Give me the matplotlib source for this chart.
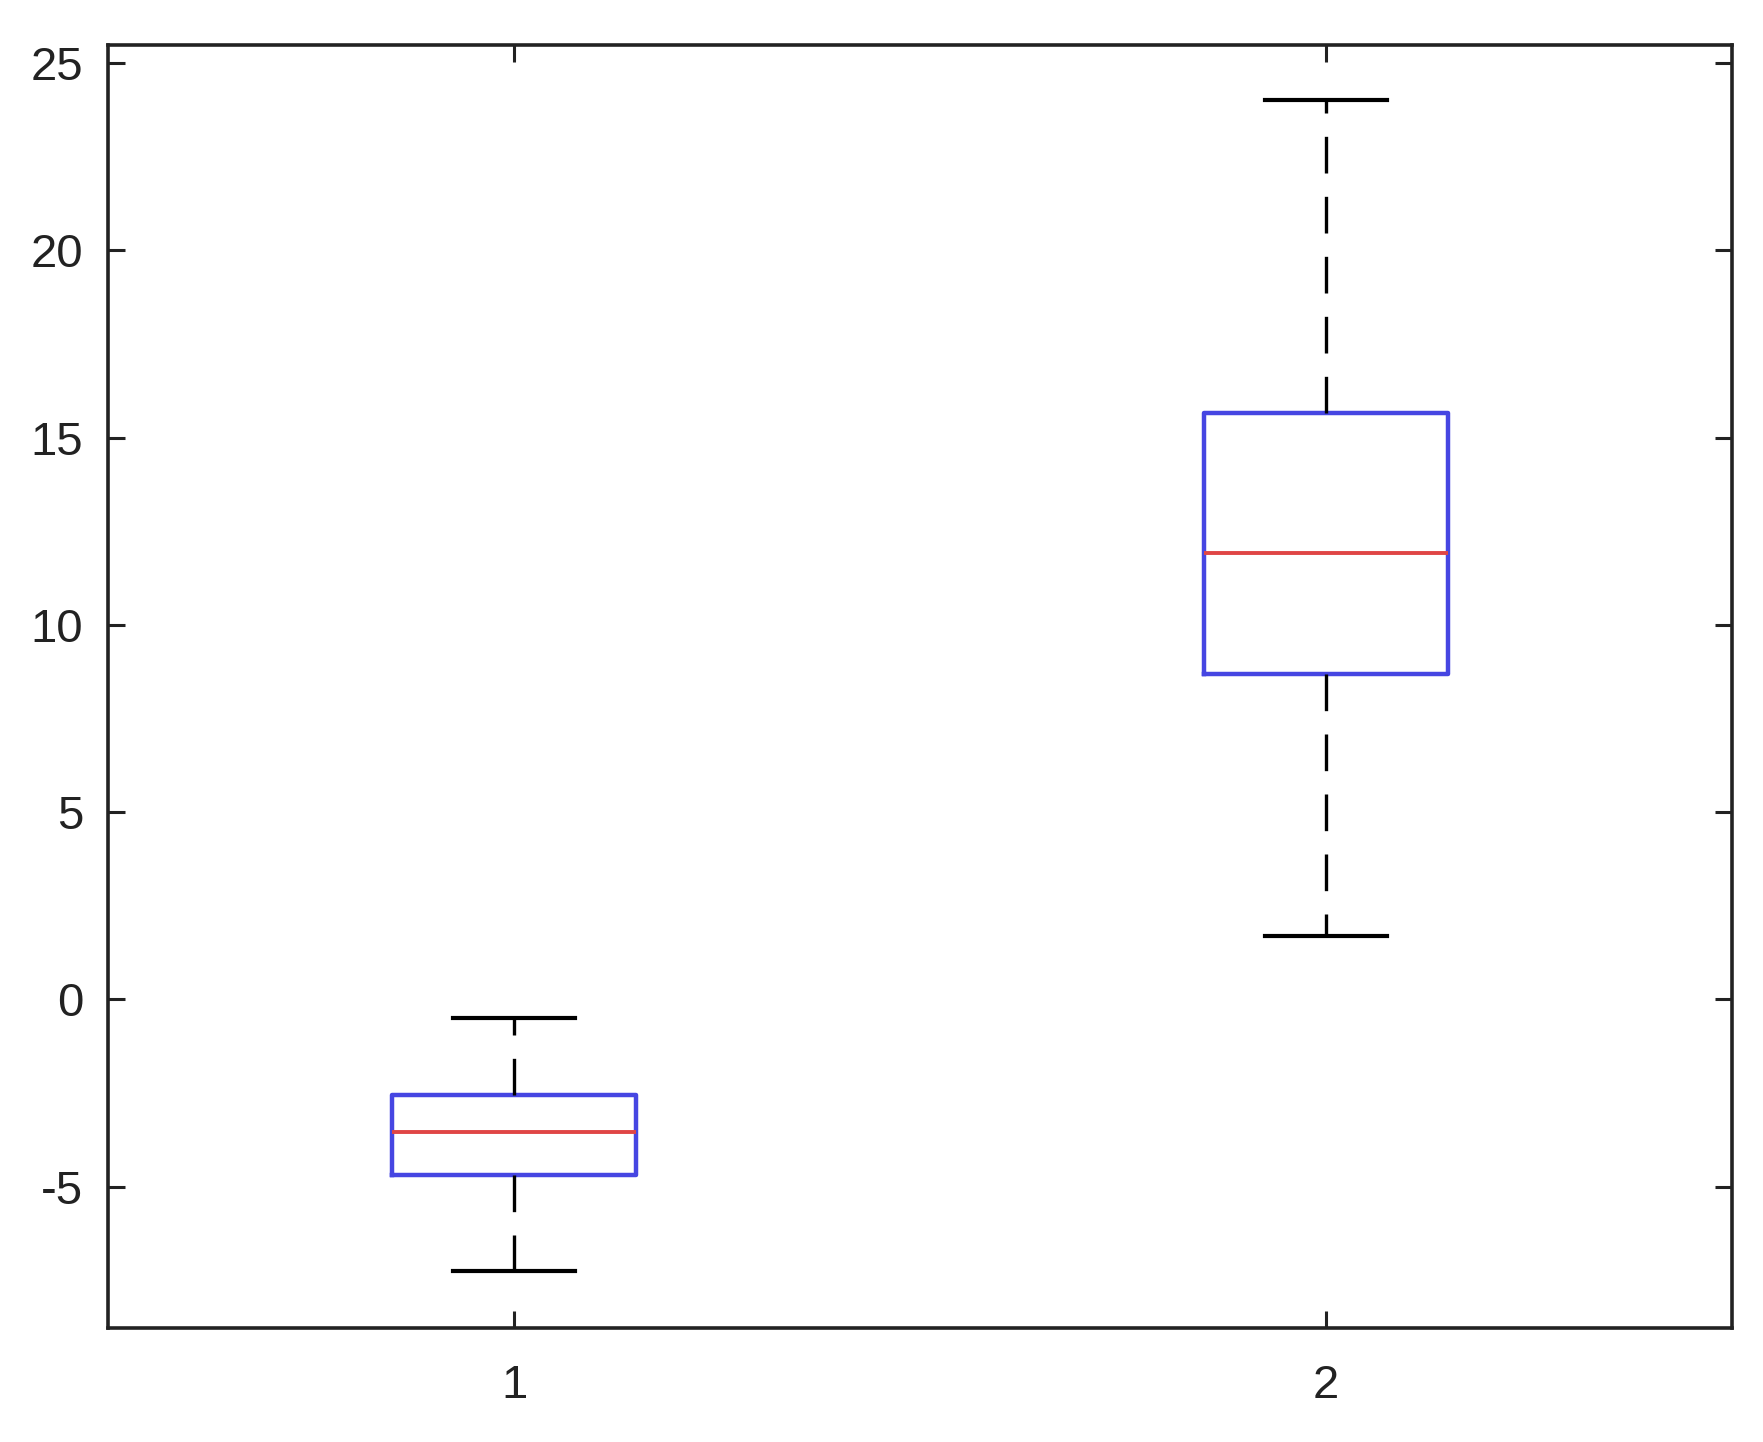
import matplotlib.pyplot as plt

# values
labels = ["1", "2"]
q1 = [-4.69, 8.69]
median = [-3.55, 11.92]
q3 = [-2.55, 15.66]
whisker_low = [-7.24, 1.70]
whisker_high = [-0.49, 24.0]
y_ticks = [-5, 0, 5, 10, 15, 20, 25]

plt.rcParams["font.family"] = ["Liberation Sans", "DejaVu Sans"]
plt.rcParams["axes.unicode_minus"] = False

fig = plt.figure(figsize=(17.63, 14.42), dpi=100)
ax = fig.add_axes([0.0613, 0.0791, 0.9211, 0.8897])

stats = []
for i, lab in enumerate(labels):
    stats.append({
        "label": lab,
        "q1": q1[i],
        "med": median[i],
        "q3": q3[i],
        "whislo": whisker_low[i],
        "whishi": whisker_high[i],
        "fliers": [],
    })

ax.bxp(
    stats,
    positions=[1, 2],
    widths=0.30,
    showfliers=False,
    boxprops=dict(color="#4646e2", linewidth=3.2),
    medianprops=dict(color="#e04545", linewidth=2.8),
    whiskerprops=dict(color="black", linewidth=2.4, linestyle=(0, (11, 7))),
    capprops=dict(color="black", linewidth=3.0),
    capwidths=0.15,
)

ax.set_xlim(0.5, 2.5)
ax.set_ylim(-8.77, 25.48)
ax.set_xticks([1, 2])
ax.set_xticklabels(labels)
ax.set_yticks(y_ticks)

for side in ["left", "right", "top", "bottom"]:
    ax.spines[side].set_linewidth(2.6)
    ax.spines[side].set_color("#222222")

ax.tick_params(direction="in", length=12, width=2.2, colors="#222222",
               labelsize=34, top=True, right=True)
ax.tick_params(axis="y", pad=18)
ax.tick_params(axis="x", pad=26)

fig.savefig("out.png", dpi=100)
